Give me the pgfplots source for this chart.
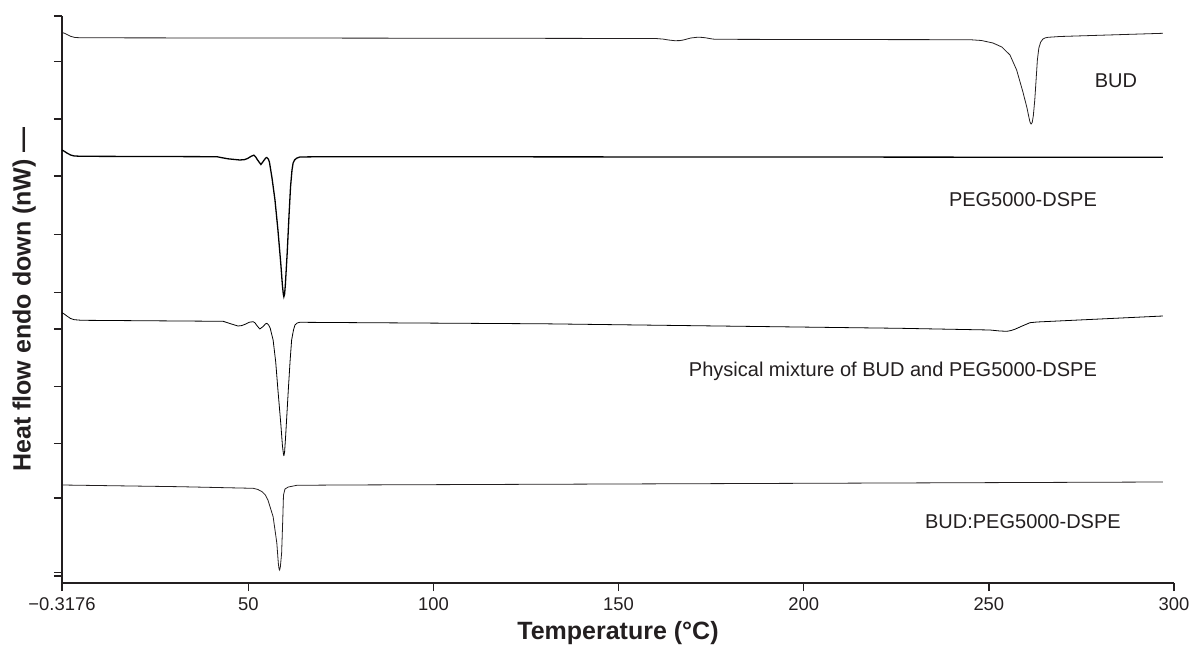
\documentclass[border=0pt]{standalone}
\usepackage{pgfplots}
\pgfplotsset{compat=1.18}
\usepackage{fontspec}
\setmainfont{Liberation Sans}
\definecolor{ink}{RGB}{35,31,32}
\begin{document}
\begin{tikzpicture}
\path[use as bounding box] (0,0) rectangle (595.5pt,-323.5pt);
\begin{axis}[
  at={(31pt,-291.5pt)}, anchor=south west,
  scale only axis, width=556pt, height=283.5pt,
  xmin=-0.3176, xmax=300, ymin=-583, ymax=-16,
  axis x line*=bottom, axis y line*=left,
  axis line style={ink, line width=0.75pt, -},
  every tick/.style={ink, line width=0.75pt},
  tick align=outside, major tick length=4pt,
  xtick={-0.3176,50,100,150,200,250,300},
  xticklabels={−0.3176,50,100,150,200,250,300},
  ytick={-16,-61.7,-119,-176,-234.7,-292.3,-329,-386.7,-443.7,-498,-572.3,-576},
  yticklabels={},
  ticklabel style={font=\fontsize{9.2}{11}\selectfont, text=ink},
  xlabel={Temperature (°C)},
  ylabel={Heat flow endo down (nW) —},
  xlabel style={font=\fontsize{12.5}{15}\selectfont\bfseries, text=ink, at={(axis description cs:0.5,-0.088)}, anchor=center},
  ylabel style={font=\fontsize{12.5}{15}\selectfont\bfseries, text=ink, at={(axis description cs:-0.034,0.5)}, anchor=center},
  clip=false,
  cycle list={{ink, line width=0.65pt, line join=round}},
]
% BUD
\addplot coordinates {(-0.3176,-32.5) (0.4,-33.3) (1.0,-34.5) (2.0,-36.3) (3.2,-37.5) (5,-37.8) (50,-38.0) (100,-38.2) (160,-38.5) (162,-39.1) (163.5,-40.0) (165.2,-40.7) (166.5,-40.6) (167.5,-40.0) (169.5,-38) (171.4,-37.2) (172.5,-37.4) (173.5,-37.8) (175,-38.8) (176,-39.3) (200,-39.5) (244.9,-39.7) (248,-40.5) (251.1,-43) (253.5,-47) (255.7,-55) (257.5,-70) (259.2,-92) (260.3,-108) (260.8,-117) (261.1,-122) (261.4,-124) (261.7,-122.5) (262.0,-116) (262.4,-100) (262.7,-83) (263.1,-60) (263.5,-48) (264.0,-42) (264.6,-39) (265.3,-37.8) (266,-37.3) (269.2,-36.5) (297,-33.3)};
% PEG5000-DSPE
\addplot coordinates {(-0.3176,-150) (0.4,-151.5) (1.0,-153) (2.0,-155) (3,-156) (5,-156.3) (41.5,-156.7) (43,-157.8) (44.5,-158.8) (47.7,-160) (49,-159.6) (49.8,-158.5) (50.8,-156.2) (51.5,-155.2) (52,-157) (52.5,-160) (53.4,-164.5) (54.3,-160) (54.7,-158) (55.0,-157.5) (55.4,-159) (55.7,-162) (56.4,-178) (57.2,-200) (58.0,-230) (58.8,-265) (59.2,-285) (59.45,-294) (59.6,-296.7) (59.8,-294) (60.0,-285) (60.5,-253) (61.0,-215) (61.4,-187) (61.8,-170) (62.1,-163) (62.5,-160) (63.0,-158.3) (63.9,-157) (70,-156.7) (297,-157.3)};
% Physical mixture
\addplot coordinates {(-0.3176,-312.7) (0.4,-314.3) (1,-316) (2,-318.5) (3,-319.7) (5,-320.3) (43.2,-321.3) (45,-323.5) (47.2,-326) (48.2,-325.6) (49,-324.5) (50.3,-322.2) (51.3,-321.7) (51.8,-322.8) (52.2,-325) (53.1,-329) (54.0,-326.5) (54.6,-324) (55.0,-323.3) (55.5,-325) (55.9,-328) (56.7,-340) (57.4,-362) (58.0,-390) (58.8,-425) (59.2,-445) (59.45,-453) (59.6,-455.7) (59.8,-452) (60.1,-435) (60.8,-390) (61.3,-360) (61.7,-340) (62.2,-330) (62.6,-325) (63.2,-323) (63.9,-322.3) (130,-323.8) (226,-328.3) (250.3,-330) (253,-331) (254.9,-331.3) (256,-330.5) (257,-329.3) (259,-326) (261.1,-322.7) (263,-322) (297,-316)};
% BUD:PEG5000-DSPE
\addplot coordinates {(-0.3176,-485) (31.5,-486.7) (51.3,-488.3) (52.6,-489.5) (53.7,-491.7) (54.6,-495) (55.3,-500) (56.7,-516.7) (57.7,-543) (58.1,-563) (58.3,-569) (58.45,-570) (58.65,-567) (59.0,-553) (59.3,-520) (59.5,-495) (59.9,-489) (60.8,-487) (63.1,-485.3) (74.8,-485) (297,-482)};
\node[anchor=base, font=\fontsize{10}{12}\selectfont, text=ink] at (axis cs:284.3,-88) {BUD};
\node[anchor=base, font=\fontsize{10}{12}\selectfont, text=ink] at (axis cs:259.2,-207) {PEG5000-DSPE};
\node[anchor=base, font=\fontsize{10}{12}\selectfont, text=ink] at (axis cs:224.1,-377) {Physical mixture of BUD and PEG5000-DSPE};
\node[anchor=base, font=\fontsize{10}{12}\selectfont, text=ink] at (axis cs:259.2,-528) {BUD:PEG5000-DSPE};
\end{axis}
\end{tikzpicture}
\end{document}
